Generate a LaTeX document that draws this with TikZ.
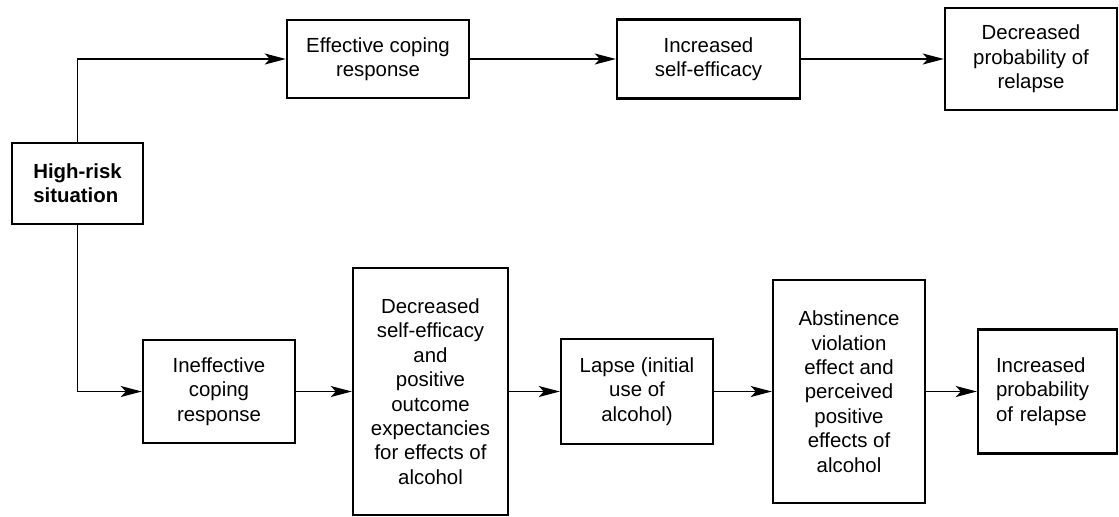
\documentclass[tikz,border=0pt]{standalone}
\usepackage{fontspec}
\setmainfont{Liberation Sans}
\usepackage{tikz}
\usetikzlibrary{arrows,arrows.meta,positioning,calc}

\begin{document}
\begin{tikzpicture}[->, >={Stealth[length=10.5pt,width=5.5pt,inset=2.5pt]}, line width=0.7pt, node distance=25.3pt, font=\fontsize{10.2}{12.2}\selectfont]
	\tikzstyle{box}=[draw=black,line width=1.2pt,align=center,inner sep=0pt,text=black]
	\useasboundingbox (-38.75pt,-166.25pt) rectangle (520.75pt,91.75pt);
	\node[box,minimum width=65.5pt,minimum height=40.5pt,align=left,font=\fontsize{10.2}{12.2}\selectfont\bfseries] (high) at (0,0) {High-risk\\situation};
	% upper branch
	\node[box,minimum width=91pt,minimum height=39pt,above right=21.3pt and 70.8pt of high] (eff) {Effective coping\\response};
	\node[box,minimum width=91.5pt,minimum height=39.5pt,right=72.8pt of eff] (inc) {Increased\\self-efficacy};
	\node[box,minimum width=86pt,minimum height=51pt,right=71.3pt of inc] (decp) {Decreased\\probability of\\relapse};
	% lower branch
	\node[box,minimum width=76pt,minimum height=51.5pt,below right=56.8pt and -1.2pt of high] (ineff) {Ineffective\\coping\\response};
	\node[box,minimum width=77.5pt,minimum height=123.5pt,right=27.8pt of ineff] (dse) {Decreased\\self-efficacy\\and\\positive\\outcome\\expectancies\\for effects of\\alcohol};
	\node[box,minimum width=76pt,minimum height=52.5pt,right=of dse] (lapse) {Lapse (initial\\use of\\alcohol)};
	\node[box,minimum width=76pt,minimum height=111.5pt,right=28.8pt of lapse] (abst) {Abstinence\\violation\\effect and\\perceived\\positive\\effects of\\alcohol};
	\node[box,minimum width=69.5pt,minimum height=62pt,text width=51.5pt,align=left,right=of abst] (incp) {Increased\\probability\\of relapse};
	\draw (high.north) |- (eff);
	\draw (high.south) |- (ineff);
	\path
	(eff) edge (inc)
	(inc) edge (decp)
	(ineff) edge (dse)
	(dse) edge (lapse)
	(lapse) edge (abst)
	(abst) edge (incp);
\end{tikzpicture}
\end{document}
